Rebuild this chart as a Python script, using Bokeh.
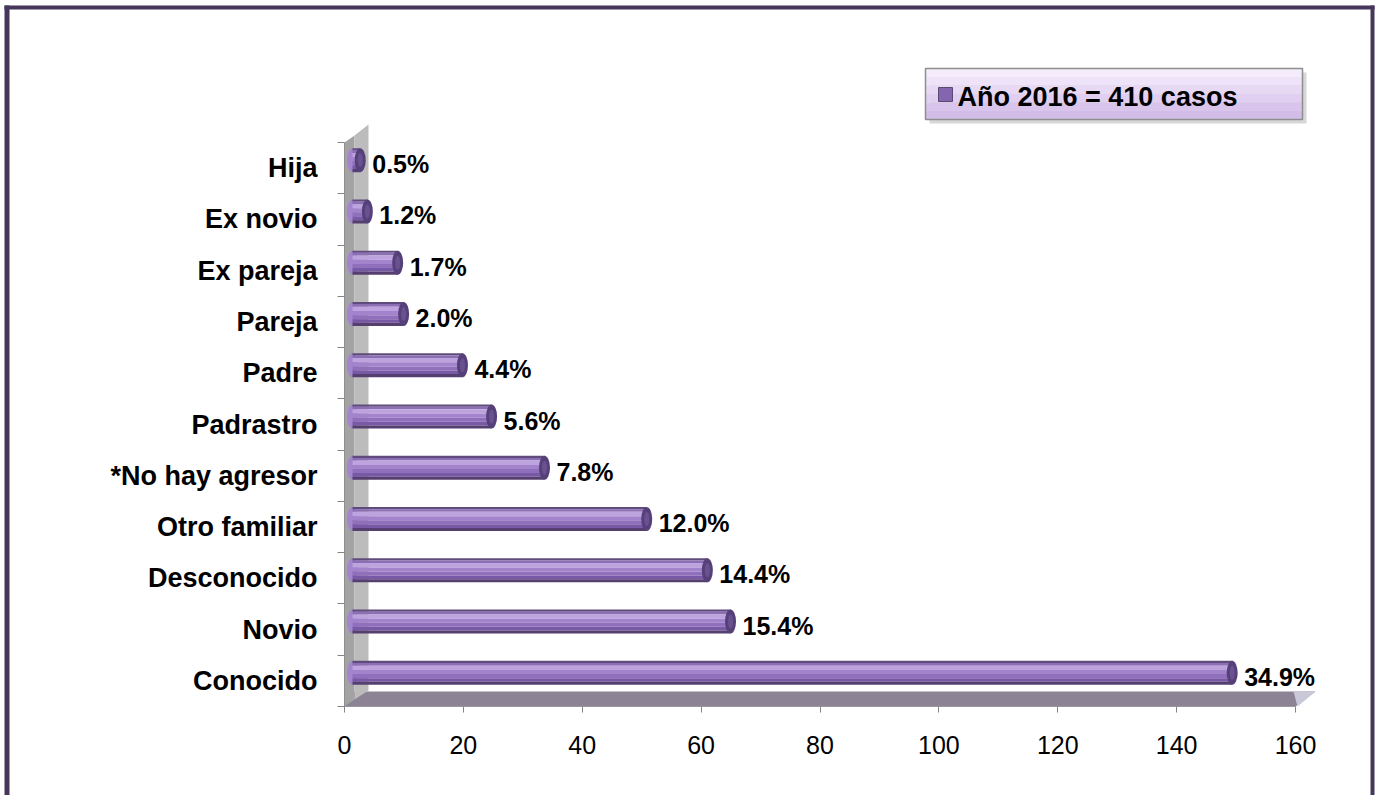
from bokeh.plotting import figure
from bokeh.models import LinearAxis, FixedTicker, Range1d
from bokeh.core.properties import value
from bokeh.embed import file_html
from bokeh.resources import INLINE

# ---------------- data ----------------
categories = ["Conocido", "Novio", "Desconocido", "Otro familiar", "*No hay agresor",
              "Padrastro", "Padre", "Pareja", "Ex pareja", "Ex novio", "Hija"]
casos = [148, 63.6, 59.7, 49.5, 32.3, 23.4, 18.5, 8.6, 7.6, 2.5, 1.3]
porcentajes = ["34.9%", "15.4%", "14.4%", "12.0%", "7.8%", "5.6%", "4.4%",
               "2.0%", "1.7%", "1.2%", "0.5%"]
x_ticks = [0, 20, 40, 60, 80, 100, 120, 140, 160]
legend_label = "Año 2016 =  410 casos"

# ---------------- geometry (pixels) ----------------
W, H = 1375, 795
PAGE = 0
X_AXIS_MAX = 160
PX_X = 951 / 160.0          # px per x unit
PX_Y = 564 / 11.0           # px per category
X0_CANVAS = 344             # canvas px of x = 0
YB_FROM_BOTTOM = H - 706    # canvas px (from bottom) of y = -0.5

x_start = -X0_CANVAS / PX_X
x_end = x_start + W / PX_X
y_start = -0.5 - YB_FROM_BOTTOM / PX_Y
y_end = y_start + H / PX_Y


def dx(px):
    return px / PX_X


def dy(px):
    return px / PX_Y


def X(page_px):
    return x_start + (page_px - PAGE) / PX_X


def Y(page_py):
    return y_end - (page_py - PAGE) / PX_Y


FONT = "Liberation Sans"
BAR_DX, BAR_DY = dx(8), dy(8)
BAR_H = dy(24)

p = figure(width=W, height=H, output_backend="svg", toolbar_location=None,
           x_range=Range1d(x_start, x_end), y_range=Range1d(y_start, y_end),
           x_axis_type=None, y_axis_type=None, min_border=0,
           background_fill_color="white", border_fill_color="white")
p.xgrid.visible = False
p.ygrid.visible = False
p.outline_line_color = None

# ---------------- floor & wall ----------------
p.patch([0, X_AXIS_MAX, X_AXIS_MAX + dx(20), dx(0)],
        [-0.5, -0.5, -0.5 + dy(15), -0.5 + dy(15)],
        fill_color="#8c8394", line_color=None)
p.patch([X_AXIS_MAX - dx(2), X_AXIS_MAX + dx(20), X_AXIS_MAX + dx(2)],
        [-0.5 + dy(15), -0.5 + dy(15), -0.5],
        fill_color="#c9c8d8", line_color=None)
p.patch([0, 0, dx(10), dx(10)],
        [-0.5, 10.5, 10.5 + dy(7), -0.5 + dy(7)],
        fill_color="#a3a3a3", line_color=None)
p.patch([dx(10), dx(10), dx(24), dx(24)],
        [-0.5 + dy(7), 10.5 + dy(7), 10.5 + dy(18), -0.5 + dy(16)],
        fill_color="#bcbcbc", line_color=None)

# ---------------- cylinder bars ----------------
idx = list(range(len(categories)))
yc = [i + BAR_DY for i in idx]
right = [v + BAR_DX for v in casos]

p.ellipse(x=[BAR_DX] * len(idx), y=yc, width=11, height=24,
          width_units="screen", height_units="screen",
          fill_color="#a285cc", line_color=None)

bands = [(0.00, 0.09, "#5f4c7c"), (0.09, 0.20, "#8b6eb3"), (0.20, 0.38, "#bea4df"),
         (0.38, 0.55, "#a283cc"), (0.55, 0.72, "#9070bd"), (0.72, 0.87, "#7859a6"),
         (0.87, 1.00, "#543f6e")]
for ft, fb, col in bands:
    off = (0.5 - (ft + fb) / 2.0) * BAR_H
    p.hbar(y=[v + off for v in yc], left=BAR_DX, right=right,
           height=(fb - ft) * BAR_H, fill_color=col, line_color=None)

p.ellipse(x=right, y=yc, width=11, height=24, width_units="screen",
          height_units="screen", fill_color="#56407a", line_color=None)
p.ellipse(x=right, y=yc, width=5, height=14, width_units="screen",
          height_units="screen", fill_color="#6a5290", line_color=None)

p.text(x=right, y=[v - dy(4) for v in yc], text=porcentajes, x_offset=12,
       text_baseline="middle", text_align="left", text_font=value(FONT),
       text_font_style="bold", text_font_size="25px", text_color="#000000")

# ---------------- axes ----------------
yaxis = LinearAxis(fixed_location=0, bounds=(-0.5, 10.5),
                   ticker=FixedTicker(ticks=idx, minor_ticks=[i - 0.5 for i in range(12)]),
                   major_label_overrides={i: c for i, c in zip(idx, categories)})
yaxis.major_tick_out = 0
yaxis.major_tick_in = 0
yaxis.minor_tick_out = 7
yaxis.minor_tick_in = 0
yaxis.minor_tick_line_color = "#858585"
yaxis.axis_line_color = "#8f8f8f"
yaxis.major_label_standoff = 20
yaxis.major_label_text_font = FONT
yaxis.major_label_text_font_style = "bold"
yaxis.major_label_text_font_size = "27px"
yaxis.major_label_text_color = "#000000"
p.add_layout(yaxis, "left")

xaxis = LinearAxis(fixed_location=-0.5, bounds=(0, X_AXIS_MAX),
                   ticker=FixedTicker(ticks=x_ticks))
xaxis.major_tick_out = 6
xaxis.major_tick_in = 0
xaxis.major_tick_line_color = "#858585"
xaxis.axis_line_color = "#9a9a9a"
xaxis.major_label_standoff = 23
xaxis.major_label_text_font = FONT
xaxis.major_label_text_font_size = "25px"
xaxis.major_label_text_color = "#000000"
p.add_layout(xaxis, "below")

# ---------------- legend box ----------------
LX0, LX1, LY0, LY1 = X(925), X(1302), Y(68), Y(119)
p.quad(left=LX0 + dx(4), right=LX1 + dx(4), top=LY0 - dy(4), bottom=LY1 - dy(4),
       fill_color="#bdbdbd", fill_alpha=0.6, line_color=None)
grad = ["#f4ecfb", "#eee3f8", "#e7d9f4", "#e0cff0", "#d9c5ec", "#d2bce8"]
n = len(grad)
for k, col in enumerate(grad):
    p.quad(left=LX0, right=LX1, top=LY0 - (LY0 - LY1) * k / n,
           bottom=LY0 - (LY0 - LY1) * (k + 1) / n, fill_color=col, line_color=None)
p.quad(left=LX0, right=LX1, top=LY0, bottom=LY1, fill_color=None,
       line_color="#8e8e8e", line_width=1.5)
p.quad(left=X(938), right=X(952), top=Y(87), bottom=Y(101),
       fill_color="#8466b0", line_color="#5a4a70", line_width=1)
p.text(x=[X(957)], y=[Y(96)], text=[legend_label], text_baseline="middle",
       text_align="left", text_font=value(FONT), text_font_style="bold",
       text_font_size="27px", text_color="#000000")

# ---------------- outer frame ----------------
FRAME = "#45365a"
p.quad(left=X(4), right=X(9), top=Y(5), bottom=y_start,
       fill_color=FRAME, line_color=None)
p.quad(left=X(4), right=X(1374), top=Y(5), bottom=Y(9),
       fill_color=FRAME, line_color=None)
p.quad(left=X(1370), right=X(1374), top=Y(5), bottom=y_start,
       fill_color=FRAME, line_color=None)

open("out.html", "w").write(file_html(p, INLINE))
